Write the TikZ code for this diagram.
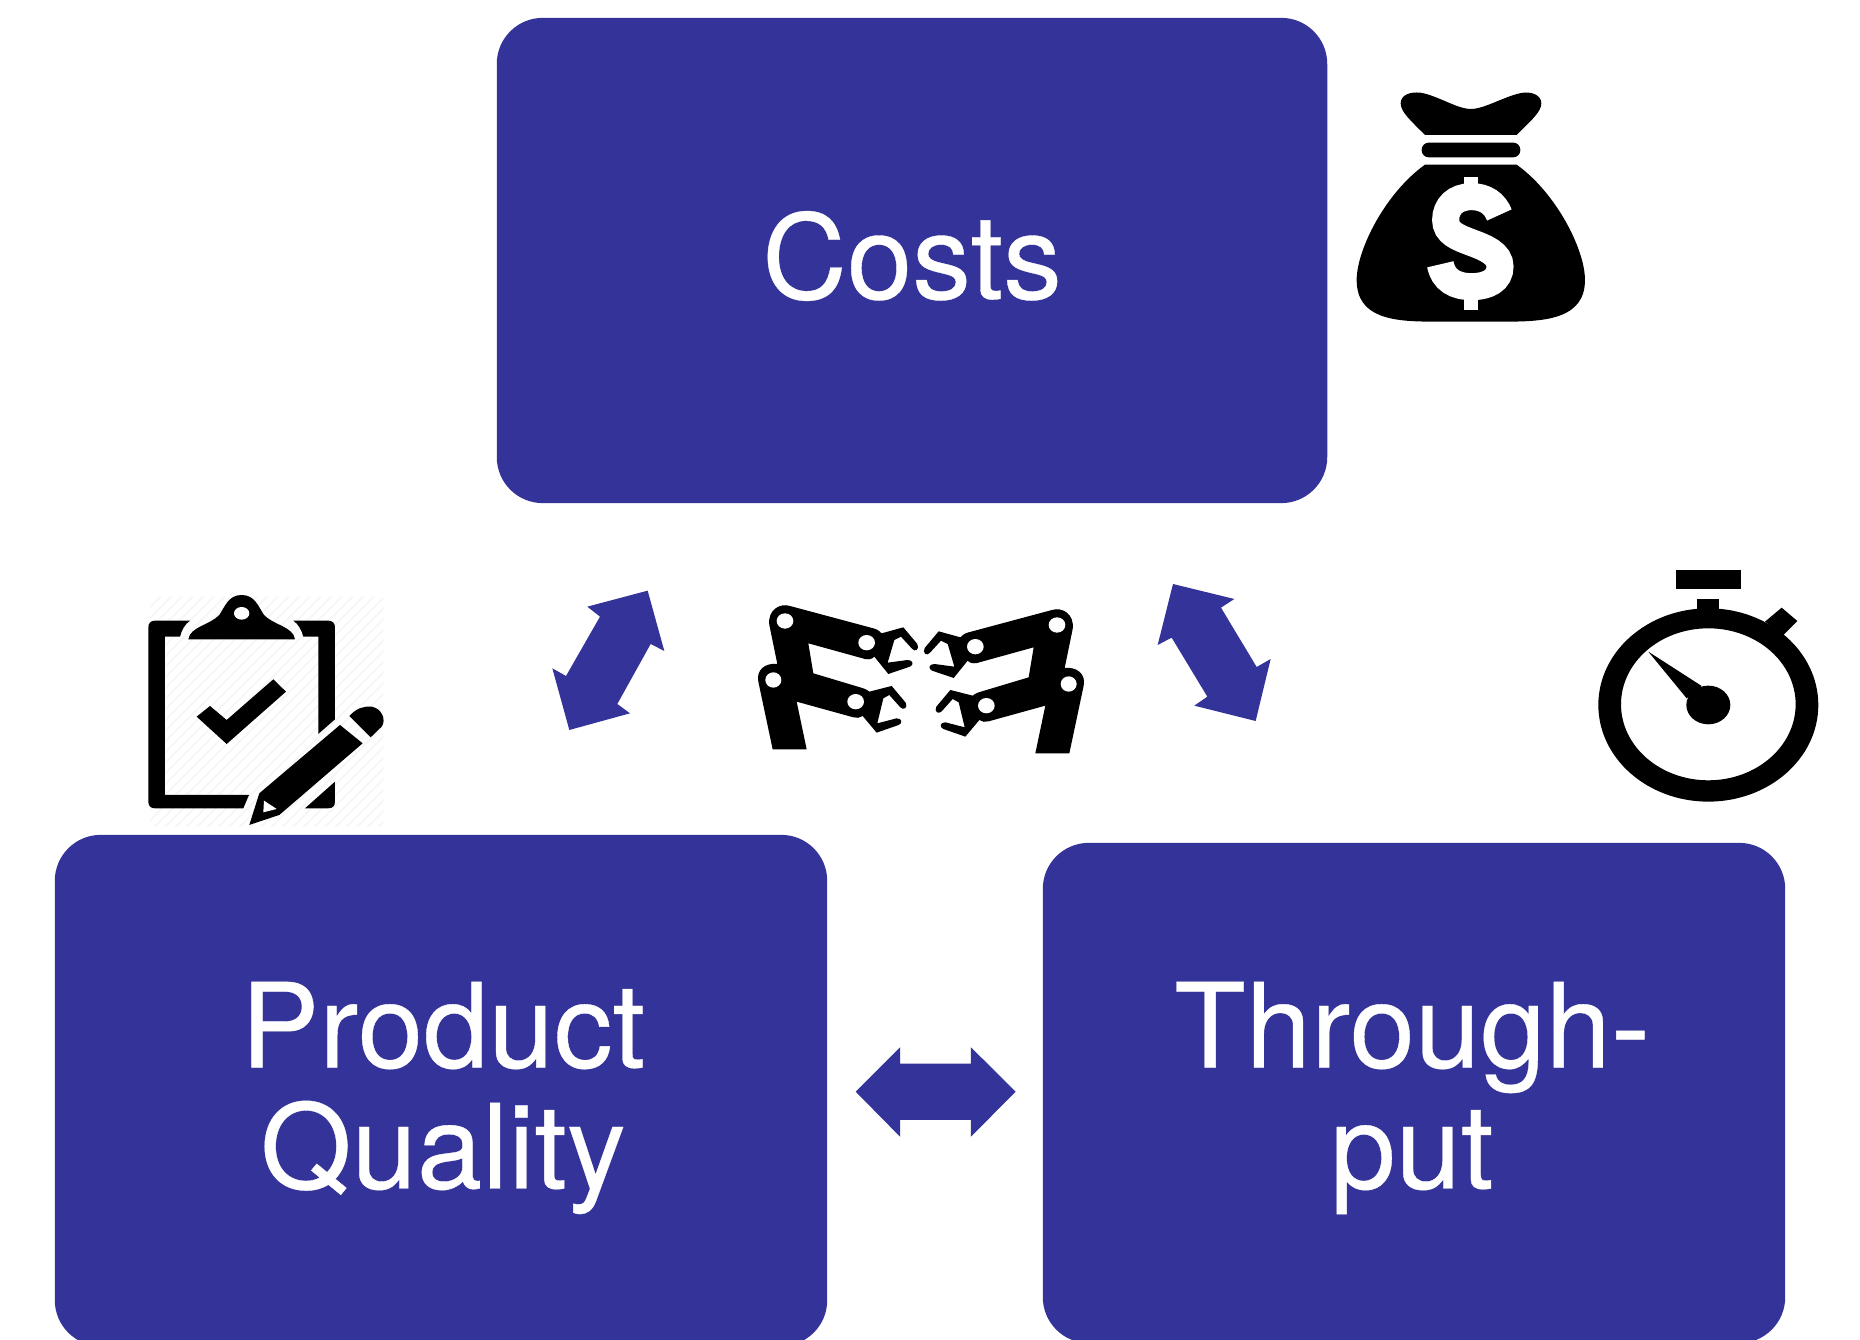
\documentclass[tikz,border=0pt]{standalone}
\usepackage{fontspec}
\setmainfont{Liberation Sans}
\newfontfamily\panelfont[FakeBold=0.3]{TeX Gyre Heros}
\definecolor{panelblue}{rgb}{0.2, 0.2, 0.6}

\begin{document}
\begin{tikzpicture}[
        x=0.01cm,y=-0.01cm,
        panel/.style={fill=panelblue,rounded corners=0.46cm,inner sep=0pt},
        paneltext/.style={text=white,align=center,font={\panelfont\fontsize{33.4}{34.4}\selectfont}},
        blockarrow/.style={fill=panelblue},
        icon/.style={fill=black},
        robotarm/.pic={
            \fill[icon] (88,105) .. controls (82,60) and (120,38) .. (150,48) -- (400,115)
                .. controls (412,118) and (420,124) .. (425,130) -- (490,112) -- (532,162)
                .. controls (540,178) and (525,188) .. (516,176) -- (483,140) -- (463,150) -- (443,218) -- (503,210)
                .. controls (520,210) and (522,225) .. (510,230) -- (445,252) -- (403,200)
                .. controls (395,208) and (388,209) .. (375,207) -- (205,160) -- (220,250) -- (370,295)
                .. controls (378,298) and (384,301) .. (388,305) -- (455,288) -- (497,338)
                .. controls (505,354) and (490,362) .. (481,352) -- (448,315) -- (430,325) -- (412,400) -- (470,385)
                .. controls (487,385) and (488,400) .. (476,405) -- (410,428) -- (368,378)
                .. controls (360,384) and (350,385) .. (340,382) -- (170,335) -- (200,478) -- (98,478) -- (55,275)
                .. controls (48,240) and (75,218) .. (112,222) -- cycle;
            \fill[white] (135,93) ellipse (25 and 23);
            \fill[white] (380,158) ellipse (25 and 23);
            \fill[white] (100,270) ellipse (24 and 23);
            \fill[white] (347,335) ellipse (25 and 23);
        }
    ]
    \useasboundingbox (0,0) rectangle (1860,1340);
    \clip (0,0) rectangle (1860,1340);

    %Draw the three panels
    \node[panel,minimum width=8.30cm,minimum height=4.85cm] (costs) at (912,260.5) {};
    \node[panel,minimum width=7.72cm,minimum height=5.11cm] (quality) at (441,1090.5) {};
    \node[panel,minimum width=7.42cm,minimum height=5.00cm] (throughput) at (1414,1093) {};
    \node[paneltext] (costslabel) at (912,256) {Costs};
    \node[paneltext] (qualitylabel) at (443,1098) {Product\\Quality};
    \node[paneltext] (throughputlabel) at (1412,1098) {Through-\\put};

    %block arrows between the panels
    \begin{scope}[shift={(530,570)},scale=0.3333]
        \fill[blockarrow] (353,62) -- (403,243) -- (362,222) -- (262,402) -- (300,430) -- (118,480) -- (67,295) -- (108,318) -- (210,140) -- (172,110) -- cycle;
    \end{scope}
    \begin{scope}[shift={(1140,570)},scale=0.3333]
        \fill[blockarrow] (99,42) -- (283,87) -- (243,113) -- (350,291) -- (392,267) -- (347,453) -- (163,407) -- (202,380) -- (95,203) -- (53,225) -- cycle;
    \end{scope}
    \begin{scope}[shift={(840,1030)},scale=0.3333]
        \fill[blockarrow] (47,185) -- (180,52) -- (180,101) -- (393,101) -- (393,52) -- (527,185) -- (393,320) -- (393,270) -- (180,270) -- (180,320) -- cycle;
    \end{scope}

    %money bag
    \begin{scope}[shift={(1330,70)},scale=0.3333]
        \fill[icon] (285,195) .. controls (240,150) and (212,125) .. (212,100) .. controls (212,75) and (240,65) .. (270,68)
            .. controls (320,75) and (380,117) .. (423,117) .. controls (465,117) and (530,75) .. (580,68)
            .. controls (610,65) and (634,78) .. (634,100) .. controls (634,125) and (605,150) .. (560,195) -- cycle;
        \fill[icon,rounded corners=0.07cm] (275,218) rectangle (571,262);
        \fill[icon] (285,284) -- (560,284) .. controls (680,370) and (765,540) .. (765,630)
            .. controls (765,745) and (650,755) .. (530,755) -- (310,755)
            .. controls (190,755) and (80,745) .. (80,630) .. controls (80,540) and (165,370) .. (285,284) -- cycle;
        \fill[white] (402,320) rectangle (445,365);
        \fill[white] (402,670) rectangle (445,720);
        \draw[white,line width=0.27cm] (508,435) .. controls (495,400) and (465,380) .. (425,380)
            .. controls (375,380) and (347,410) .. (347,450) .. controls (347,490) and (385,503) .. (425,518)
            .. controls (465,533) and (510,550) .. (510,590) .. controls (510,630) and (475,650) .. (425,650)
            .. controls (375,650) and (340,630) .. (331,583);
    \end{scope}

    %clipboard and pencil
    \begin{scope}[shift={(130,580)},scale=0.3333]
        \begin{scope}
            \clip (60,50) rectangle (760,740);
            \foreach \hatch in {0,32,...,1500}
                \draw[black!3,line width=0.6pt] (60+\hatch,50) -- (-640+\hatch,750);
        \end{scope}
        \fill[icon] (180,122) -- (75,122) .. controls (62,122) and (55,130) .. (55,142) -- (55,665) .. controls (55,678) and (62,685) .. (75,685) -- (340,685) -- (357,645) -- (105,645) -- (105,170) -- (150,170) .. controls (155,150) and (165,132) .. (180,122) -- cycle;
        \fill[icon] (490,122) -- (595,122) .. controls (608,122) and (615,130) .. (615,142) -- (615,418) -- (565,462) -- (565,170) -- (520,170) .. controls (515,150) and (505,132) .. (490,122) -- cycle;
        \fill[icon] (525,685) -- (615,605) -- (615,665) .. controls (615,678) and (608,685) .. (595,685) -- cycle;
        \fill[icon] (175,178) .. controls (180,140) and (240,135) .. (268,105) .. controls (285,80) and (295,45) .. (335,45)
            .. controls (375,45) and (385,80) .. (402,105) .. controls (430,135) and (490,140) .. (495,178) -- cycle;
        \fill[white] (335,100) ellipse (23 and 19);
        \fill[icon] (200,410) -- (240,378) -- (290,420) -- (430,298) -- (468,335) -- (290,492) -- cycle;
        \fill[icon] (630,435) -- (698,490) -- (448,705) -- (358,735) -- (388,640) -- cycle;
        \fill[white] (402,662) -- (440,687) -- (400,697) -- cycle;
        \fill[icon] (658,408) .. controls (680,385) and (700,378) .. (725,380) .. controls (755,385) and (770,420) .. (755,440) -- (722,472) -- cycle;
    \end{scope}

    %robot arms
    \pic[scale=0.3333] at (740,590) {robotarm};
    \pic[scale=0.3333,xscale=-1] at (1102,594) {robotarm};

    %stopwatch
    \begin{scope}[shift={(1580,560)},scale=0.3333]
        \fill[icon] (287,30) rectangle (484,88);
        \fill[icon] (352,117) rectangle (418,170);
        \fill[icon] (555,185) -- (605,143) -- (652,183) -- (610,225) -- cycle;
        \fill[icon,even odd rule] (385,435) ellipse (330 and 290) (385,433) ellipse (262 and 228);
        \fill[icon] (205,275) -- (365,378) -- (320,415) -- cycle;
        \fill[icon] (385,435) ellipse (66 and 58);
    \end{scope}
\end{tikzpicture}
\end{document}
